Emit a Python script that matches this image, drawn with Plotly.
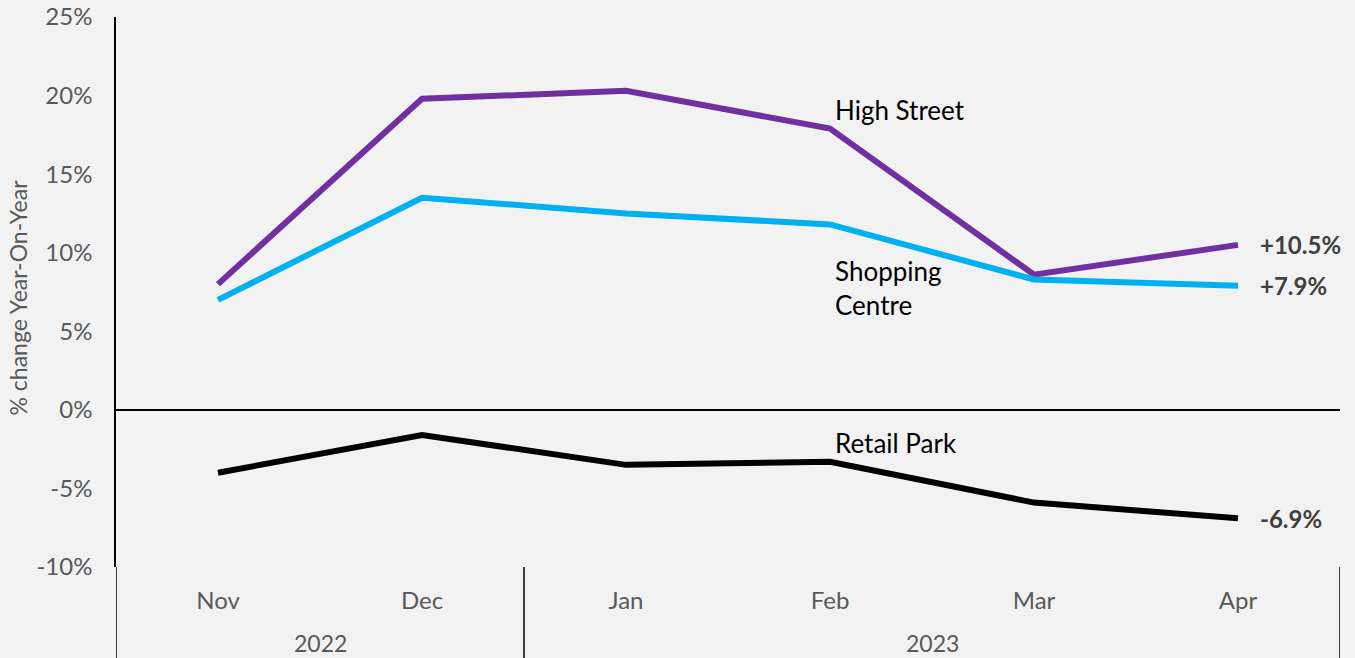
import plotly.graph_objects as go

months = ["Nov", "Dec", "Jan", "Feb", "Mar", "Apr"]
years = ["2022", "2023"]
year_spans = [(0, 1), (2, 5)]
high_street = [8.0, 19.8, 20.3, 17.9, 8.6, 10.5]
shopping_centre = [7.0, 13.5, 12.5, 11.8, 8.3, 7.9]
retail_park = [-4.0, -1.6, -3.5, -3.3, -5.9, -6.9]
end_labels = ["+10.5%", "+7.9%", "-6.9%"]
y_ticks = [-10, -5, 0, 5, 10, 15, 20, 25]
y_tick_text = ["-10%", "-5%", "0%", "5%", "10%", "15%", "20%", "25%"]

series = [
    ("High Street", high_street, "#7030A0"),
    ("Shopping Centre", shopping_centre, "#00B0F0"),
    ("Retail Park", retail_park, "#000000"),
]

xs = list(range(len(months)))
fig = go.Figure()
for name, vals, col in series:
    fig.add_trace(go.Scatter(x=xs, y=vals, mode="lines", name=name,
                             line=dict(color=col, width=6), showlegend=False))

# end-of-line value labels
for (name, vals, col), lab in zip(series, end_labels):
    fig.add_annotation(x=xs[-1], y=vals[-1], text="<b>" + lab + "</b>", showarrow=False,
                       xanchor="left", yanchor="middle", xshift=20,
                       font=dict(family="Lato", size=24, color="#404040"))

# series name labels
name_font = dict(family="Lato", size=26, color="#000000")
fig.add_annotation(x=3.015, y=19.1, text="High Street", showarrow=False,
                   xanchor="left", yanchor="middle", font=name_font)
fig.add_annotation(x=3.015, y=7.75, text="Shopping<br>Centre", showarrow=False,
                   xanchor="left", yanchor="middle", align="left", font=name_font)
fig.add_annotation(x=3.015, y=-2.1, text="Retail Park", showarrow=False,
                   xanchor="left", yanchor="middle", font=name_font)

# year labels and dividers
ext = -95 / 550
for yr, (a, b) in zip(years, year_spans):
    fig.add_annotation(x=(a + b) / 2, y=-76 / 550, xref="x", yref="paper", text=yr,
                       showarrow=False, xanchor="center", yanchor="middle",
                       font=dict(family="Lato", size=23, color="#595959"))
for xv in [-0.5, 1.5, 5.5]:
    fig.add_shape(type="line", xref="x", yref="paper", x0=xv, x1=xv, y0=0, y1=ext,
                  line=dict(color="#000000", width=1.5))

# y-axis title
fig.add_annotation(x=-99 / 1224, y=0.49, xref="paper", yref="paper",
                   text="% change Year-On-Year", textangle=-90, showarrow=False,
                   xanchor="center", yanchor="middle",
                   font=dict(family="Lato", size=23, color="#595959"))

fig.update_layout(
    width=1355, height=658,
    margin=dict(l=116, r=15, t=17, b=91, autoexpand=False),
    paper_bgcolor="#F2F2F2", plot_bgcolor="#F2F2F2",
    xaxis=dict(range=[-0.5, 5.5], tickvals=xs, ticktext=months, showgrid=False,
               zeroline=False, showline=False, ticks="", automargin=False,
               ticklabelstandoff=17,
               tickfont=dict(family="Lato", size=24, color="#595959")),
    yaxis=dict(range=[-10, 25], tickvals=y_ticks, ticktext=y_tick_text, showgrid=False,
               zeroline=True, zerolinecolor="#000000", zerolinewidth=1.5,
               showline=True, linecolor="#000000", linewidth=1.5, ticks="",
               automargin=False, ticklabelstandoff=17,
               tickfont=dict(family="Lato", size=24, color="#595959")),
)

fig.write_html("out.html")
